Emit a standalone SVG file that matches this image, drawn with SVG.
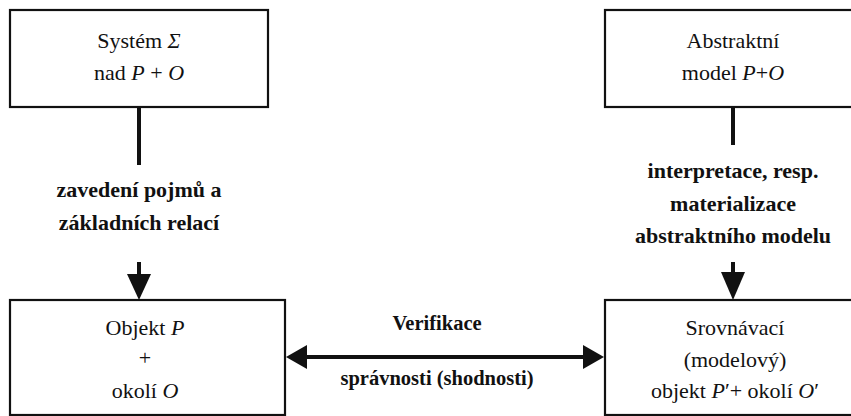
<svg xmlns="http://www.w3.org/2000/svg" width="851" height="416" viewBox="0 0 851 416" font-family="Liberation Serif, serif">
<style>
.box{fill:#fff;stroke:#111;stroke-width:2.2}
.t{font-size:22px;fill:#111;text-anchor:middle}
.b{font-size:22px;font-weight:bold;fill:#111;text-anchor:middle}
.b20{font-size:20.5px;font-weight:bold;fill:#111;text-anchor:middle}
.i{font-style:italic}
.ln{stroke:#111;stroke-width:4;fill:none}
.ah{fill:#111}
</style>
<rect width="851" height="416" fill="#fff"/>
<g id="connectors">
  <line class="ln" x1="139" y1="107" x2="139" y2="165"/>
  <line class="ln" x1="139" y1="262" x2="139" y2="280"/>
  <polygon class="ah" points="127,274 151,274 139,300"/>
  <line class="ln" x1="733" y1="107" x2="733" y2="145"/>
  <line class="ln" x1="733" y1="262" x2="733" y2="280"/>
  <polygon class="ah" points="721,272 745,272 733,300"/>
  <line class="ln" x1="300" y1="357" x2="590" y2="357"/>
  <polygon class="ah" points="286,357 307,345 307,369"/>
  <polygon class="ah" points="604,357 583,345 583,369"/>
  <text class="b" x="139" y="197">zavedení pojmů a</text>
  <text class="b" x="139" y="230">základních relací</text>
  <text class="b" x="733" y="178">interpretace, resp.</text>
  <text class="b" x="733" y="211">materializace</text>
  <text class="b" x="733" y="243">abstraktního modelu</text>
  <text class="b20" x="437" y="330">Verifikace</text>
  <text class="b20" x="437" y="385">správnosti (shodnosti)</text>
</g>
<g id="system">
  <rect class="box" x="10" y="10" width="258" height="97"/>
  <text class="t" x="139" y="48">Systém <tspan class="i">Σ</tspan></text>
  <text class="t" x="139" y="80">nad <tspan class="i">P</tspan> + <tspan class="i">O</tspan></text>
</g>
<g id="abstraktni">
  <rect class="box" x="605" y="10" width="260" height="97"/>
  <text class="t" x="733" y="48">Abstraktní</text>
  <text class="t" x="733" y="80">model <tspan class="i">P</tspan>+<tspan class="i">O</tspan></text>
</g>
<g id="objekt">
  <rect class="box" x="10" y="300" width="275" height="115"/>
  <text class="t" x="145" y="335">Objekt <tspan class="i">P</tspan></text>
  <text class="t" x="145" y="365">+</text>
  <text class="t" x="145" y="398">okolí <tspan class="i">O</tspan></text>
</g>
<g id="srovnavaci">
  <rect class="box" x="605" y="300" width="260" height="115"/>
  <text class="t" x="735" y="335">Srovnávací</text>
  <text class="t" x="735" y="367">(modelový)</text>
  <text class="t" x="735" y="398">objekt <tspan class="i">P</tspan>′+ okolí <tspan class="i">O</tspan>′</text>
</g>
</svg>
